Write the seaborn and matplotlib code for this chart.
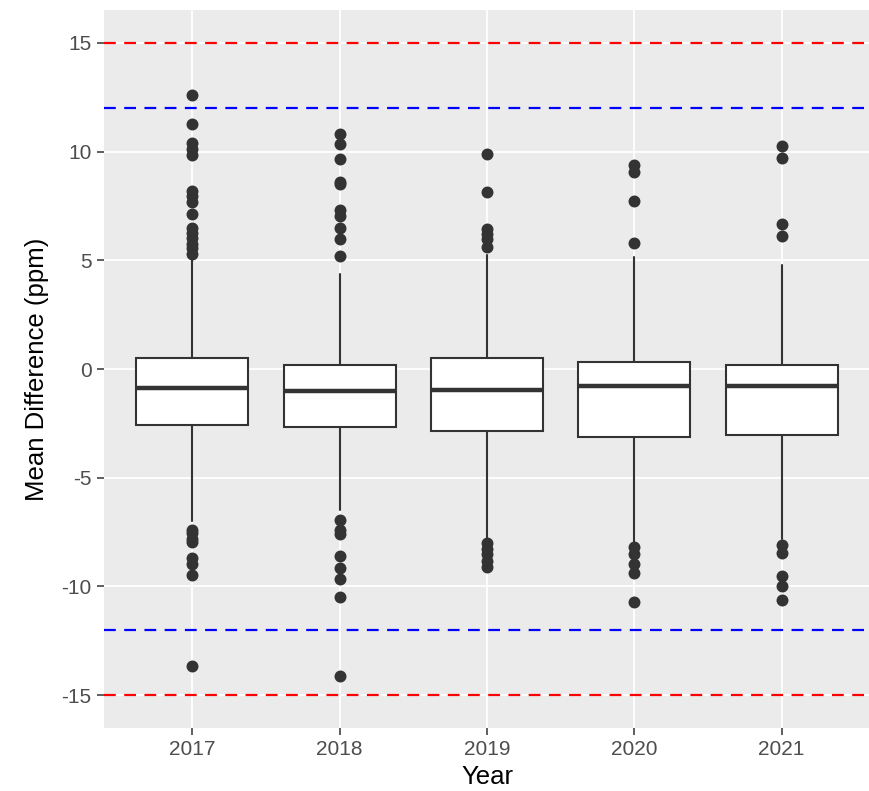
import matplotlib
matplotlib.use("Agg")
import matplotlib.pyplot as plt
import numpy as np
import pandas as pd
import seaborn as sns

# ---- data ----
years = ["2017", "2018", "2019", "2020", "2021"]
q1 = [-2.58, -2.67, -2.85, -3.13, -3.04]
median = [-0.87, -1.01, -0.97, -0.78, -0.78]
q3 = [0.51, 0.18, 0.51, 0.32, 0.18]
whisker_low = [-7.0, -6.5, -7.76, -8.0, -7.8]
whisker_high = [5.0, 4.39, 5.25, 5.15, 4.79]

outliers_2017 = [12.6, 11.26, 10.38, 10.1, 9.85, 8.19, 7.96, 7.7, 7.15, 6.5, 6.27,
                 6.04, 5.74, 5.55, 5.28, -7.4, -7.55, -7.8, -7.95, -8.7, -8.97,
                 -9.48, -13.67]
outliers_2018 = [10.8, 10.34, 9.68, 8.6, 8.5, 7.32, 7.04, 6.47, 5.97, 5.2,
                 -6.96, -7.42, -7.6, -8.6, -9.14, -9.65, -10.49, -14.13]
outliers_2019 = [9.87, 8.14, 6.43, 6.2, 5.97, 5.61,
                 -7.99, -8.3, -8.5, -8.83, -9.1]
outliers_2020 = [9.37, 9.07, 7.73, 5.81,
                 -8.19, -8.5, -8.96, -9.37, -10.72]
outliers_2021 = [10.26, 9.72, 6.66, 6.12,
                 -8.11, -8.45, -9.52, -9.99, -10.63]

red_limits = [15, -15]
blue_limits = [12, -12]
ytick_values = [-15, -10, -5, 0, 5, 10, 15]
ytick_labels = ["-15", "-10", "-5", "0", "5", "10", "15"]

# ---- styling ----
sns.set_theme(style="darkgrid", rc={
    "axes.facecolor": "#EBEBEB",
    "grid.color": "white",
    "grid.linewidth": 1.3,
    "axes.edgecolor": "#EBEBEB",
})
plt.rcParams["font.family"] = ["Liberation Sans", "DejaVu Sans"]
plt.rcParams["axes.unicode_minus"] = False

fig = plt.figure(figsize=(8.7, 7.91), dpi=100)
ax = fig.add_axes([0.1195, 0.080, 0.8805, 0.907])

out_lists = [outliers_2017, outliers_2018, outliers_2019, outliers_2020, outliers_2021]
df_out = pd.DataFrame({
    "Year": np.repeat(years, [len(o) for o in out_lists]),
    "value": np.concatenate(out_lists),
})

stats = []
for i, y in enumerate(years):
    stats.append(dict(label=y, q1=q1[i], med=median[i], q3=q3[i],
                      whislo=whisker_low[i], whishi=whisker_high[i], fliers=[]))

ax.bxp(stats, positions=range(len(years)), widths=0.76, showfliers=False,
       showcaps=False, patch_artist=True, manage_ticks=False,
       boxprops=dict(facecolor="white", edgecolor="#333333", linewidth=1.5),
       medianprops=dict(color="#333333", linewidth=3.2, solid_capstyle="butt"),
       whiskerprops=dict(color="#333333", linewidth=1.5))

sns.stripplot(data=df_out, x="Year", y="value", order=years, jitter=False,
              color="#333333", size=8.6, linewidth=0, ax=ax, zorder=3)

dash = (0, (5.3, 3.8))
for v in red_limits:
    ax.axhline(v, color="red", linewidth=1.6, linestyle=dash, zorder=4)
for v in blue_limits:
    ax.axhline(v, color="blue", linewidth=1.6, linestyle=dash, zorder=4)

ax.set_xlim(-0.6, 4.6)
ax.set_ylim(-16.5, 16.5)
ax.set_xticks(range(len(years)))
ax.set_xticklabels(years)
ax.set_yticks(ytick_values)
ax.set_yticklabels(ytick_labels)
ax.grid(True, which="major")
ax.set_axisbelow(True)
for s in ax.spines.values():
    s.set_visible(False)

ax.tick_params(axis="both", which="major", left=True, bottom=True, labelsize=15,
               labelcolor="#4D4D4D", color="#333333", length=5, width=1.1)
ax.tick_params(axis="y", pad=4)
ax.tick_params(axis="x", pad=3.5)
ax.set_xlabel("Year", fontsize=18.5, color="black", labelpad=4.5)
ax.set_ylabel("Mean Difference (ppm)", fontsize=18.5, color="black", labelpad=9)

fig.savefig("out.png", dpi=100)
